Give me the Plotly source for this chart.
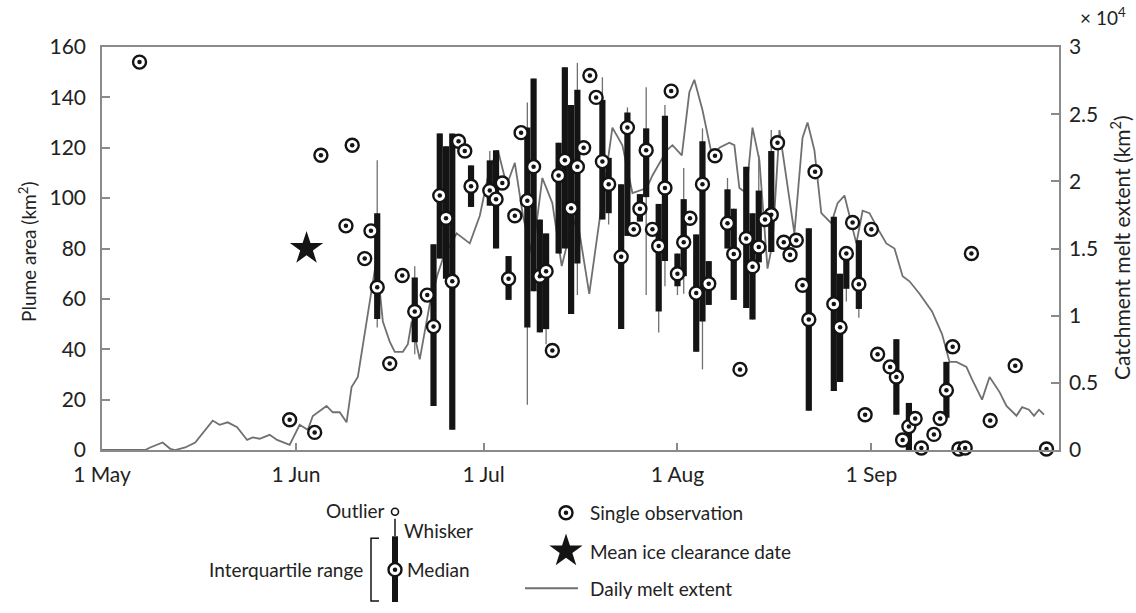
import plotly.graph_objects as go

# ---------------- data (x = days since 1 May) ----------------
month_ticks = [0, 31, 61, 92, 123]
month_labels = ["1 May", "1 Jun", "1 Jul", "1 Aug", "1 Sep"]

box_day = [44, 50, 53, 54, 55, 56, 59, 62, 63, 65, 68, 69, 70, 71, 73, 74, 75, 76, 80, 81, 83, 84, 86, 87,
           89, 90, 92, 93, 95, 96, 97, 100, 101, 103, 104, 105, 107, 113, 117, 118, 119, 121, 127, 129, 135]
box_q1 = [52, 42.8, 17.5, 76, 68, 8, 96.5, 97, 80, 59.6, 48.6, 63, 46.7, 48, 78, 80, 54, 74, 91.5, 94, 48, 85,
          90.7, 100.4, 55, 75, 65, 69, 39, 51, 57.6, 80, 59.6, 56.4, 51.8, 74.5, 78.6, 15.6, 23.4, 27, 64, 56,
          14, 0, 12.8]
box_med = [64.6, 55, 49, 101, 92, 67, 104.7, 103, 99.6, 68, 99, 112.5, 69, 71, 109, 115, 96, 112.5, 114.5,
           105.5, 76.7, 128, 95.8, 119, 81, 104, 70, 82.5, 62.3, 105.5, 66, 90, 77.8, 84, 72.8, 80.6, 93.4,
           51.8, 58, 48.7, 78, 65.8, 29, 9.3, 23.7]
box_q3 = [94, 68.5, 81.7, 125.7, 120.6, 125.7, 113, 115, 119, 77, 128, 147.5, 91.5, 86, 122, 152, 137, 143,
          139, 116, 105.5, 134, 101.6, 127.7, 97.7, 132.7, 78, 99.6, 85.6, 122.6, 75, 103.5, 95.8, 112.5, 94,
          103, 118.7, 88, 92.6, 70, 80, 83.3, 44, 18.7, 35]
whisk_lo = [48.6, 38, 17.5, 76, 68, 8, 96.5, 97, 80, 59.6, 18, 63, 46.7, 42, 78, 80, 54, 61.5, 91.5, 89.5,
            48, 85, 90.7, 61.5, 46.7, 65, 61.5, 62, 39, 32, 57.6, 80, 59.6, 56.4, 51.8, 74.5, 78.6, 15.6,
            23.4, 27, 59, 52.5, 14, 0, 12.8]
whisk_hi = [115, 73, 81.7, 125.7, 120.6, 125.7, 113, 118.7, 119, 77, 138, 147.5, 91.5, 86, 122, 152, 137,
            153.7, 148, 116, 105.5, 136, 101.6, 144, 97.7, 137, 78, 112, 85.6, 127.7, 75, 108, 95.8, 112.5,
            94, 117, 127, 88, 92.6, 70, 80, 83.3, 44, 18.7, 35]

single_day = [6, 30, 34, 35, 39, 40, 42, 43, 46, 48, 52, 57, 58, 64, 66, 67, 72, 77, 78, 79, 85, 88, 91, 94,
              98, 102, 106, 108, 109, 110, 111, 112, 114, 120, 122, 123, 124, 126, 128, 130, 131, 133, 134,
              136, 137, 138, 139, 142, 146, 151]
single_val = [154, 12, 7, 117, 89, 121, 76, 87, 34.3, 69.3, 61.5, 122.6, 118.7, 106, 93, 126, 39.5, 120,
              148.7, 140, 87.6, 87.6, 142.5, 92, 116.8, 32, 91.5, 122, 82.5, 77.5, 83.3, 65.4, 110.5, 90.3,
              14, 87.6, 38, 33, 4, 12.5, 0.8, 6.2, 12.5, 41, 0.4, 0.8, 78, 11.7, 33.5, 0.4]

ice_day = [32.7]
ice_val = [80]

melt_day = [0.0, 6.9, 7.7, 9.7, 10.9, 11.7, 13.3, 14.9, 17.7, 18.8, 20.1, 21.6, 23.2, 24.1, 25.2, 26.8, 28.0,
            30.0, 31.6, 32.9, 33.7, 35.9, 36.9, 38.0, 39.1, 39.9, 40.9, 42.2, 43.9, 44.9, 46.0, 46.8, 48.1,
            48.9, 49.5, 50.8, 52.4, 53.7, 54.5, 56.7, 58.8, 60.4, 62.0, 63.3, 64.7, 66.0, 67.3, 68.8, 70.4,
            72.0, 73.5, 74.4, 75.9, 77.9, 79.6, 81.6, 83.2, 84.8, 87.1, 88.0, 90.3, 91.2, 92.7, 93.9, 94.7,
            96.0, 97.6, 98.7, 100.3, 101.1, 101.9, 103.0, 104.0, 105.1, 106.4, 107.2, 108.3, 109.4, 110.7,
            112.0, 112.8, 113.9, 115.0, 116.6, 117.6, 118.7, 120.6, 121.6, 122.7, 124.0, 125.4, 126.7, 128.0,
            129.1, 130.7, 132.7, 134.3, 135.5, 136.6, 138.2, 139.1, 140.7, 141.9, 143.5, 144.6, 146.2, 147.1,
            148.2, 149.0, 149.8, 150.6]
melt_km2 = [0, 0, 190, 560, 90, 0, 190, 560, 2190, 1880, 2060, 1690, 750, 940, 840, 1130, 750,
            380, 1880, 1500, 2530, 3280, 2810, 2810, 2060, 4690, 5440, 9380, 14250, 9560, 8060, 7310, 7310,
            7880, 9560, 6750, 10880, 13130, 14250, 16130, 15380, 17440, 21000, 22310, 19690, 21380, 17440,
            14440, 20250, 18380, 13690, 15380, 17440, 11630, 17440, 24000, 22690, 19130, 19500, 20440, 22310,
            22690, 21940, 26630, 27560, 25310, 21750, 22500, 22880, 22690, 19500, 19130, 24000, 21560, 13500,
            15380, 23810, 20250, 16130, 23250, 24380, 22310, 17630, 16880, 18380, 18940, 15380, 17810, 17630,
            16500, 15380, 15000, 12940, 12560, 11630, 10310, 8630, 6560, 6560, 6190, 5250, 3750, 5440, 4310,
            3280, 2550, 3190, 3000, 2550, 3000, 2630]

plume_ticks = [0, 20, 40, 60, 80, 100, 120, 140, 160]
melt_ticks = [0, 5000, 10000, 15000, 20000, 25000, 30000]
melt_tick_labels = ["0", "0.5", "1", "1.5", "2", "2.5", "3"]

# ---------------- geometry ----------------
FIG_W, FIG_H = 1136, 613
TOP = 47
PLOT_H = FIG_H - TOP


def py2paper(py):
    return (FIG_H - py) / PLOT_H


def px2paper(px):
    return (px - 102) / 957


# ---------------- styling ----------------
FONT = "Lato"
TXT = "#222222"
INK = "#141414"
GREY = "#707070"
AXC = "#8a8a8a"

fig = go.Figure()

# daily melt extent (right axis, drawn underneath)
fig.add_trace(go.Scatter(x=melt_day, y=melt_km2, mode="lines", xaxis="x", yaxis="y",
                         line=dict(color=GREY, width=1.8), hoverinfo="skip", showlegend=False))

# whiskers
wx, wy = [], []
for d, lo, hi in zip(box_day, whisk_lo, whisk_hi):
    wx += [d, d, None]
    wy += [lo, hi, None]
fig.add_trace(go.Scatter(x=wx, y=wy, mode="lines", xaxis="x", yaxis="y2",
                         line=dict(color="#707070", width=1.3), hoverinfo="skip", showlegend=False))

# interquartile bars (thick segments, drawn above the whiskers)
bx, by = [], []
for d, a, b in zip(box_day, box_q1, box_q3):
    bx += [d, d, None]
    by += [a, b, None]
fig.add_trace(go.Scatter(x=bx, y=by, mode="lines", xaxis="x", yaxis="y2",
                         line=dict(color=INK, width=6.2), hoverinfo="skip", showlegend=False))

# medians + single observations (circle with dot)
pts_x = box_day + single_day
pts_y = box_med + single_val
fig.add_trace(go.Scatter(x=pts_x, y=pts_y, mode="markers", xaxis="x", yaxis="y2", cliponaxis=False,
                         marker=dict(symbol="circle", size=13, color="white",
                                     line=dict(color=INK, width=2.4)), showlegend=False))
fig.add_trace(go.Scatter(x=pts_x, y=pts_y, mode="markers", xaxis="x", yaxis="y2", cliponaxis=False,
                         marker=dict(symbol="circle", size=4.5, color=INK, line=dict(width=0)),
                         showlegend=False))

# mean ice clearance date
fig.add_trace(go.Scatter(x=ice_day, y=ice_val, mode="markers", xaxis="x", yaxis="y2",
                         marker=dict(symbol="star", size=25, color=INK, line=dict(width=0)),
                         showlegend=False))


# ---------------- custom legend (hidden pixel axes below the plot) ----------------
def leg(x, y, **kw):
    fig.add_trace(go.Scatter(x=x, y=y, xaxis="x3", yaxis="y3", cliponaxis=False,
                             hoverinfo="skip", showlegend=False, **kw))


leg([395], [521], mode="markers", marker=dict(symbol="circle", size=7, color="white",
                                               line=dict(color=INK, width=1.6)))
leg([395, 395], [528, 546], mode="lines", line=dict(color=INK, width=1.5))
leg([395, 395], [546, 613], mode="lines", line=dict(color=INK, width=6))
leg([379, 371, 371, 379], [548, 548, 612, 612], mode="lines", line=dict(color=INK, width=1.5))
for lx, ly in [(395, 580), (566, 522)]:
    leg([lx], [ly], mode="markers", marker=dict(symbol="circle", size=13, color="white",
                                                 line=dict(color=INK, width=2.4)))
    leg([lx], [ly], mode="markers", marker=dict(symbol="circle", size=4.5, color=INK))
leg([566], [561], mode="markers", marker=dict(symbol="star", size=25, color=INK, line=dict(width=0)))
leg([525, 578], [599, 599], mode="lines", line=dict(color=GREY, width=2))

legend_text = [
    ("Outlier", 387, 520, "right"),
    ("Whisker", 402, 540, "left"),
    ("Median", 405, 580, "left"),
    ("Interquartile range", 365, 580, "right"),
    ("Single observation", 588, 522, "left"),
    ("Mean ice clearance date", 588, 561, "left"),
    ("Daily melt extent", 588, 599, "left"),
]
annotations = []
for t, ax_, ay_, anc in legend_text:
    annotations.append(dict(text=t, x=ax_, y=ay_, xref="x3", yref="y3", xanchor=anc, yanchor="middle",
                            showarrow=False, font=dict(family=FONT, size=19, color=TXT)))

annotations += [
    dict(text="Plume area (km<sup>2</sup>)", x=px2paper(28), y=py2paper(256), xref="paper",
         yref="paper", textangle=-90, showarrow=False, xanchor="center", yanchor="middle",
         font=dict(family=FONT, size=19, color=TXT)),
    dict(text="Catchment melt extent (km<sup>2</sup>)", x=px2paper(1120), y=py2paper(252),
         xref="paper", yref="paper", textangle=-90, showarrow=False, xanchor="center", yanchor="middle",
         font=dict(family=FONT, size=21, color=TXT)),
    dict(text="× 10<sup>4</sup>", x=px2paper(1078), y=py2paper(16), xref="paper", yref="paper",
         showarrow=False, xanchor="left", yanchor="middle", font=dict(family=FONT, size=19, color=TXT)),
]

axis_common = dict(showgrid=False, zeroline=False, showline=True, linecolor=AXC, linewidth=1.5,
                   ticks="inside", tickcolor=AXC, tickwidth=1.5,
                   tickfont=dict(family=FONT, size=21, color=TXT))

fig.update_layout(
    width=FIG_W, height=FIG_H,
    margin=dict(l=102, r=77, t=TOP, b=0),
    paper_bgcolor="white", plot_bgcolor="white",
    showlegend=False,
    xaxis=dict(domain=[0, 1], range=[0, 153], anchor="y", tickvals=month_ticks, ticktext=month_labels,
               ticklen=7, ticklabelstandoff=5, mirror=True, **axis_common),
    yaxis=dict(domain=[py2paper(458), 1], range=[0, 30000], side="right", anchor="x",
               tickvals=melt_ticks, ticktext=melt_tick_labels, ticklen=8, ticklabelstandoff=4,
               **axis_common),
    yaxis2=dict(overlaying="y", side="left", anchor="x", range=[0, 160], tickvals=plume_ticks,
                ticklen=8, ticklabelstandoff=10, **axis_common),
    xaxis3=dict(domain=[0, 1], range=[102, 1059], anchor="y3", visible=False, fixedrange=True),
    yaxis3=dict(domain=[0, py2paper(470)], range=[FIG_H, 470], anchor="x3", visible=False,
                fixedrange=True),
    annotations=annotations,
)

fig.write_html("out.html")
